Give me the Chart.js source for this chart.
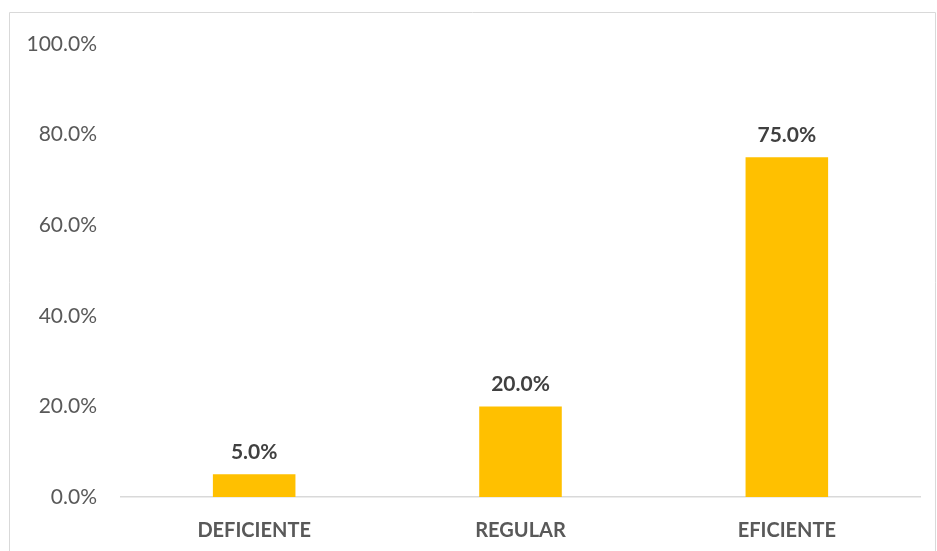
<!DOCTYPE html>
<html>
<head>
<meta charset="utf-8">
<script src="https://cdn.jsdelivr.net/npm/chart.js@4"></script>
<style>
  html, body { margin: 0; padding: 0; background: #fff; }
  #wrap { width: 937px; height: 551px; }
</style>
</head>
<body>
<div id="wrap"><canvas id="myChart" width="937" height="551"></canvas></div>
<script>
var categories = ['DEFICIENTE', 'REGULAR', 'EFICIENTE'];
var values = [0.05, 0.20, 0.75];
var yTicks = [0, 0.2, 0.4, 0.6, 0.8, 1.0];

function pct(v) { return (v * 100).toFixed(1) + '%'; }

// outer frame like the Excel chart box
const framePlugin = {
    id: 'frame',
    beforeDraw(chart) {
        const c = chart.ctx;
        c.save();
        c.strokeStyle = '#d9d9d9';
        c.lineWidth = 1;
        c.beginPath();
        c.moveTo(9.5, 560);
        c.lineTo(9.5, 12.5);
        c.lineTo(935.5, 12.5);
        c.lineTo(935.5, 560);
        c.stroke();
        c.restore();
    }
};

// value labels above bars
const labelPlugin = {
    id: 'barLabels',
    afterDatasetsDraw(chart) {
        const c = chart.ctx;
        const meta = chart.getDatasetMeta(0);
        c.save();
        c.font = 'bold 21px Lato';
        c.fillStyle = '#404040';
        c.textAlign = 'center';
        c.textBaseline = 'middle';
        meta.data.forEach(function (bar, i) {
            c.fillText(pct(values[i]), bar.x, bar.y - 22);
        });
        c.restore();
    }
};

const ctx = document.getElementById('myChart');
const myChart = new Chart(ctx, {
    type: 'bar',
    data: {
        labels: categories,
        datasets: [{
            data: values,
            backgroundColor: '#FFC000',
            borderWidth: 0,
            barPercentage: 0.31,
            categoryPercentage: 1
        }]
    },
    options: {
        responsive: false,
        animation: false,
        layout: { padding: { top: 44, right: 17, left: 0, bottom: 0 } },
        plugins: {
            legend: { display: false },
            tooltip: { enabled: false }
        },
        scales: {
            x: {
                grid: { display: false, drawTicks: false },
                border: { display: true, color: '#d9d9d9', width: 1.5 },
                ticks: {
                    color: '#595959',
                    font: { family: 'Lato', size: 20, weight: 'bold' },
                    padding: 22
                },
                afterFit: function (s) { s.height = 54; }
            },
            y: {
                min: 0,
                max: 1,
                afterBuildTicks: function (s) {
                    s.ticks = yTicks.map(function (v) { return { value: v }; });
                },
                grid: { display: false, drawTicks: false },
                border: { display: false },
                ticks: {
                    color: '#595959',
                    font: { family: 'Lato', size: 21 },
                    padding: 24,
                    callback: function (v) { return pct(v); }
                },
                afterFit: function (s) { s.width = 121; }
            }
        }
    },
    plugins: [framePlugin, labelPlugin]
});
</script>
</body>
</html>
